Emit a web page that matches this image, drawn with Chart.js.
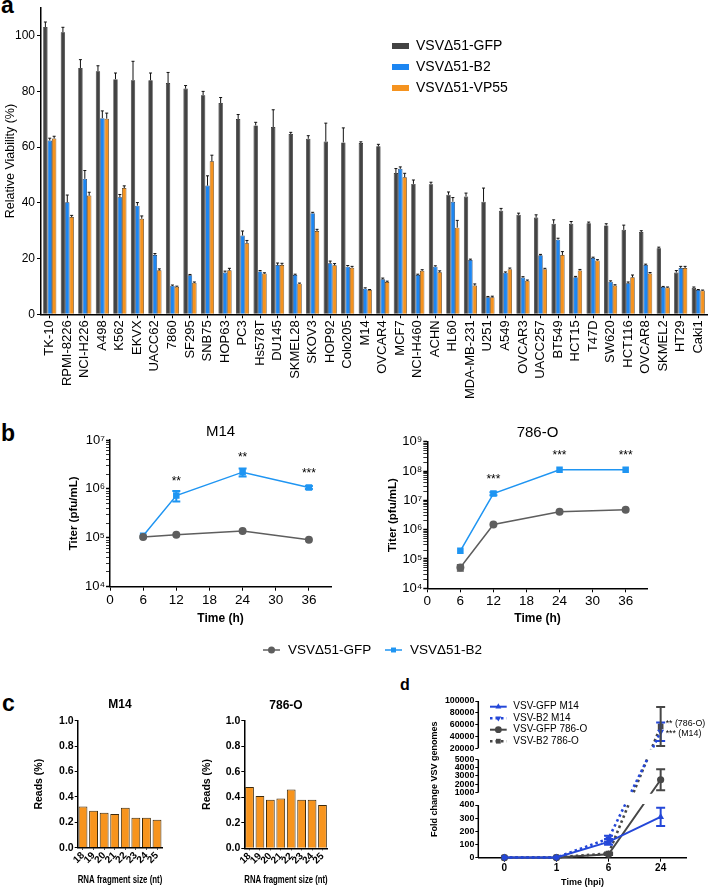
<!DOCTYPE html>
<html>
<head>
<meta charset="utf-8">
<script src="https://cdn.jsdelivr.net/npm/chart.js@4.4.1/dist/chart.umd.min.js"></script>
<style>
  html, body { margin: 0; padding: 0; background: #fff; }
  body { width: 708px; height: 889px; position: relative; overflow: hidden; font-family: 'Liberation Sans', Arial, sans-serif; }
  canvas { position: absolute; }
  .tag { position: absolute; font-weight: bold; line-height: 1; color: #000; }
</style>
</head>
<body>
<div class="tag" style="left:1px;top:-6px;font-size:23px">a</div>
<div class="tag" style="left:1px;top:422px;font-size:23px">b</div>
<div class="tag" style="left:2px;top:692px;font-size:23px">c</div>
<div class="tag" style="left:400px;top:677px;font-size:16px">d</div>

<canvas id="viability" width="708" height="400" style="left:0;top:0"></canvas>
<canvas id="titerM14" width="500" height="240" style="left:40px;top:420px"></canvas>
<canvas id="titer786" width="310" height="215" style="left:357px;top:420px"></canvas>
<canvas id="readsM14" width="160" height="199" style="left:20px;top:690px"></canvas>
<canvas id="reads786" width="160" height="199" style="left:187px;top:690px"></canvas>
<canvas id="genomes" width="308" height="199" style="left:400px;top:690px"></canvas>

<script>
// ---- panel a: relative viability per cell line ----
const cellLines = ['TK-10', 'RPMI-8226', 'NCI-H226', 'A498', 'K562', 'EKVX', 'UACC62', '7860', 'SF295', 'SNB75',
  'HOP63', 'PC3', 'Hs578T', 'DU145', 'SKMEL28', 'SKOV3', 'HOP92', 'Colo205', 'M14', 'OVCAR4',
  'MCF7', 'NCI-H460', 'ACHN', 'HL60', 'MDA-MB-231', 'U251', 'A549', 'OVCAR3', 'UACC257', 'BT549',
  'HCT15', 'T47D', 'SW620', 'HCT116', 'OVCAR8', 'SKMEL2', 'HT29', 'Caki1'];
const gfpViability = [103.1, 101.2, 88.4, 87.2, 84.4, 84.0, 84.0, 83.0, 81.0, 78.6,
  75.8, 70.1, 67.8, 67.2, 64.7, 63.0, 62.0, 61.7, 61.5, 60.3,
  50.7, 46.8, 46.7, 42.9, 42.3, 40.4, 37.2, 35.7, 34.7, 32.5,
  32.5, 32.7, 31.9, 30.3, 29.5, 23.7, 15.0, 9.5];
const gfpErr = [1.8, 1.8, 3.0, 2.0, 2.2, 6.8, 2.6, 3.8, 1.1, 1.4,
  2.0, 1.6, 1.1, 6.2, 0.6, 1.1, 6.6, 5.2, 0.4, 0.7,
  1.6, 1.4, 0.7, 1.0, 1.2, 4.9, 0.8, 0.6, 1.0, 1.4,
  0.8, 0.4, 0.6, 1.7, 0.5, 0.4, 0.7, 0.3];
const b2Viability = [62.4, 40.2, 48.6, 70.4, 42.0, 39.0, 21.3, 10.2, 14.0, 46.2,
  15.0, 28.3, 15.4, 17.7, 14.1, 36.3, 18.3, 17.1, 9.2, 12.6,
  52.2, 14.1, 17.1, 40.4, 19.5, 6.1, 14.9, 13.2, 21.2, 26.8,
  13.3, 20.2, 11.7, 11.1, 17.7, 9.8, 16.6, 8.7];
const b2Err = [0.8, 2.6, 3.0, 2.6, 1.0, 1.1, 0.5, 0.3, 0.3, 3.5,
  0.5, 1.6, 0.3, 0.7, 0.3, 0.3, 0.8, 0.4, 0.3, 0.4,
  0.7, 0.3, 0.3, 1.5, 0.3, 0.3, 0.3, 0.3, 0.3, 0.5,
  0.3, 0.3, 0.3, 0.5, 0.3, 0.2, 0.6, 0.2];
const vp55Viability = [63.1, 34.9, 42.6, 70.2, 45.3, 34.3, 15.8, 9.9, 11.3, 54.9,
  15.8, 25.5, 14.6, 17.7, 11.0, 29.9, 17.6, 16.7, 8.7, 11.6,
  49.2, 15.6, 15.1, 31.1, 10.3, 6.1, 16.2, 12.0, 16.2, 21.3,
  15.7, 19.3, 10.3, 13.3, 14.6, 9.6, 16.6, 8.5];
const vp55Err = [0.8, 0.6, 1.2, 2.0, 0.8, 1.0, 0.5, 0.2, 0.3, 2.2,
  0.7, 1.0, 0.3, 0.6, 0.2, 0.6, 0.6, 0.5, 0.2, 0.3,
  1.4, 0.4, 0.5, 2.6, 0.6, 0.4, 0.4, 0.3, 0.3, 1.2,
  0.4, 0.3, 0.3, 0.8, 0.4, 0.2, 0.6, 0.2];
const viabilityTicks = [0, 20, 40, 60, 80, 100];

// ---- panel b: virus titers ----
const titerHours = [6, 12, 24, 36];
const hourTicks = [0, 6, 12, 18, 24, 30, 36];
const m14Gfp = [1.04e5, 1.16e5, 1.37e5, 9.1e4];
const m14B2 = [1.1e5, 7.3e5, 2.2e6, 1.07e6];
const m14B2Err = [0, 1.8e5, 4e5, 0.8e5];
const m14Stars = ['', '**', '**', '***'];
const o786Gfp = [5.1e4, 1.5e6, 4.1e6, 4.8e6];
const o786GfpErr = [1.2e4, 0, 0, 0];
const o786B2 = [1.9e5, 1.7e7, 1.1e8, 1.1e8];
const o786B2Err = [0, 2e6, 0, 0];
const o786Stars = ['', '***', '***', '***'];
const m14Decades = [1e4, 1e5, 1e6, 1e7];
const o786Decades = [1e4, 1e5, 1e6, 1e7, 1e8, 1e9];

// ---- panel c: small RNA reads ----
const fragSizes = ['18', '19', '20', '21', '22', '23', '24', '25'];
const m14Reads = [0.325, 0.29, 0.275, 0.265, 0.315, 0.235, 0.235, 0.22];
const o786Reads = [0.48, 0.41, 0.38, 0.39, 0.46, 0.38, 0.38, 0.34];
const readsTicks = [0, 0.2, 0.4, 0.6, 0.8, 1.0];

// ---- panel d: fold change of VSV genomes ----
const hpi = ['0', '1', '6', '24'];
const gfpM14Fold = [1, 1, 120, 310];
const gfpM14Err = [0, 0, 22, 70];
const b2M14Fold = [1, 2, 145, 48000];
const b2M14Err = [0, 0, 22, 15500];
const gfp786Fold = [1, 1, 26, 2550];
const gfp786Err = [0, 0, 6, 1250];
const b2786Fold = [1, 3, 32, 57000];
const b2786Err = [0, 0, 8, 33000];
const foldTicks = [0, 100, 200, 300, 400, 1000, 2000, 3000, 4000, 5000, 20000, 40000, 60000, 80000, 100000];
const foldBreaks = [[0, 400], [1000, 5000], [20000, 100000]];

const FONT = "'Liberation Sans', Arial, Helvetica, sans-serif";
Chart.defaults.font.family = FONT;
Chart.defaults.color = '#000';
Chart.defaults.animation = false;
Chart.defaults.responsive = false;
Chart.defaults.devicePixelRatio = 1;
Chart.defaults.events = [];
Chart.defaults.plugins.legend.display = false;
Chart.defaults.plugins.tooltip.enabled = false;

// keep the axis boxes at fixed sizes so the plot areas land where they should
function fixX(h) { return s => { s.height = h; s.paddingLeft = 0; s.paddingRight = 0; }; }
function fixY(w) { return s => { s.width = w; s.paddingTop = 0; s.paddingBottom = 0; }; }
const axisBorder = { color: '#000', width: 1.5 };
function tickGrid(len) { return { drawOnChartArea: false, offset: false, tickLength: len, color: '#000', lineWidth: 1 }; }

// where each broken band of panel d sits, as a share of the plot height
const foldBands = [[0, 0.336], [0.415, 0.628], [0.698, 1]];
function foldDecimal(v) {
  for (let i = 0; i < foldBreaks.length; i++) {
    const [lo, hi] = foldBreaks[i];
    const [f0, f1] = foldBands[i];
    if (v <= hi || i === foldBreaks.length - 1) {
      if (v >= lo || i === 0) return f0 + (v - lo) / (hi - lo) * (f1 - f0);
      const prevHi = foldBreaks[i - 1][1], prevF = foldBands[i - 1][1];
      return prevF + (v - prevHi) / (lo - prevHi) * (f0 - prevF);
    }
  }
  return 1;
}
class BrokenLinearScale extends Chart.LinearScale {
  buildTicks() { return foldTicks.map(v => ({ value: v })); }
  getPixelForValue(v) { return this.getPixelForDecimal(foldDecimal(v)); }
}
BrokenLinearScale.id = 'brokenLinear';
BrokenLinearScale.defaults = Chart.LinearScale.defaults;
Chart.register(BrokenLinearScale);

// ---- plugins ----
const errorBars = {
  id: 'errorBars',
  afterDatasetsDraw(chart) {
    const ctx = chart.ctx;
    chart.data.datasets.forEach((ds, i) => {
      if (!ds.errors) return;
      const meta = chart.getDatasetMeta(i);
      const scale = chart.scales[meta.yAxisID];
      ctx.save();
      ctx.strokeStyle = ds.errorColor || ds.borderColor;
      ctx.lineWidth = ds.errorWidth || 1;
      meta.data.forEach((el, j) => {
        const err = ds.errors[j];
        if (!err) return;
        const raw = ds.data[j];
        const v = typeof raw === 'object' ? raw.y : raw;
        const top = scale.getPixelForValue(v + err);
        const bottom = ds.errorUpOnly ? el.y : scale.getPixelForValue(Math.max(v - err, 1e-9));
        const half = (ds.capWidth || 4) / 2;
        ctx.beginPath();
        ctx.moveTo(el.x, bottom); ctx.lineTo(el.x, top);
        ctx.moveTo(el.x - half, top); ctx.lineTo(el.x + half, top);
        if (!ds.errorUpOnly) { ctx.moveTo(el.x - half, bottom); ctx.lineTo(el.x + half, bottom); }
        ctx.stroke();
      });
      ctx.restore();
    });
  }
};

const starMarks = {
  id: 'starMarks',
  afterDatasetsDraw(chart, args, o) {
    const ctx = chart.ctx;
    chart.data.datasets.forEach((ds, i) => {
      if (!ds.stars) return;
      ctx.save();
      ctx.font = o.size + 'px ' + FONT;
      ctx.fillStyle = '#000'; ctx.textAlign = 'center'; ctx.textBaseline = 'middle';
      chart.getDatasetMeta(i).data.forEach((el, j) => {
        if (ds.stars[j]) ctx.fillText(ds.stars[j], el.x, el.y - o.lift);
      });
      ctx.restore();
    });
  }
};

const sideNotes = {
  id: 'sideNotes',
  afterDatasetsDraw(chart, args, o) {
    const ctx = chart.ctx;
    chart.data.datasets.forEach((ds, i) => {
      if (!ds.note) return;
      const pts = chart.getDatasetMeta(i).data;
      const last = pts[pts.length - 1];
      ctx.save();
      ctx.font = o.size + 'px ' + FONT;
      ctx.fillStyle = '#000'; ctx.textBaseline = 'middle';
      ctx.fillText(ds.note, last.x + o.dx, last.y + (ds.noteShift || 0));
      ctx.restore();
    });
  }
};

const caption = {
  id: 'caption',
  afterDraw(chart, args, o) {
    if (!o.text) return;
    const { ctx, chartArea } = chart;
    ctx.save();
    ctx.font = (o.weight || 'normal') + ' ' + o.size + 'px ' + FONT;
    ctx.fillStyle = '#000'; ctx.textAlign = 'center'; ctx.textBaseline = 'middle';
    ctx.fillText(o.text, (chartArea.left + chartArea.right) / 2, chartArea.top + o.dy);
    ctx.restore();
  }
};

const boxLegend = {
  id: 'boxLegend',
  afterDraw(chart, args, o) {
    const ctx = chart.ctx;
    ctx.save();
    ctx.font = o.size + 'px ' + FONT;
    ctx.textBaseline = 'middle';
    chart.data.datasets.forEach((ds, i) => {
      const y = o.y + i * o.dy;
      ctx.fillStyle = ds.backgroundColor;
      ctx.fillRect(o.x, y - o.boxH / 2, o.boxW, o.boxH);
      ctx.fillStyle = '#000';
      ctx.fillText(ds.label, o.x + o.boxW + o.gap, y);
    });
    ctx.restore();
  }
};

const lineLegend = {
  id: 'lineLegend',
  afterDraw(chart, args, o) {
    const ctx = chart.ctx;
    chart.data.datasets.forEach((ds, i) => {
      const x = o.x + i * (o.dx || 0), y = o.y + i * (o.dy || 0);
      ctx.save();
      ctx.strokeStyle = ds.borderColor;
      ctx.lineWidth = o.lineWidth || ds.borderWidth;
      ctx.setLineDash(ds.borderDash || []);
      ctx.beginPath(); ctx.moveTo(x, y); ctx.lineTo(x + o.lineLen, y); ctx.stroke();
      ctx.setLineDash([]);
      ctx.fillStyle = ds.pointBackgroundColor || ds.borderColor;
      Chart.helpers.drawPoint(ctx, { pointStyle: ds.pointStyle, rotation: ds.pointRotation || 0, radius: o.radius, borderWidth: 0 }, x + o.lineLen / 2, y);
      ctx.fillStyle = '#000';
      ctx.font = o.size + 'px ' + FONT;
      ctx.textBaseline = 'middle';
      ctx.fillText(ds.label, x + o.lineLen + o.gap, y);
      ctx.restore();
    });
  }
};

// the y axis of panel d is drawn in pieces, and lines are hidden in the gaps
const axisBreaks = {
  id: 'axisBreaks',
  beforeDatasetsDraw(chart) {
    const { ctx, chartArea } = chart, y = chart.scales.y;
    ctx.save();
    ctx.beginPath();
    foldBreaks.forEach(([lo, hi]) => {
      const top = y.getPixelForValue(hi) - 1, bot = y.getPixelForValue(lo) + (lo === 0 ? 8 : 1);
      ctx.rect(chartArea.left - 10, top, chartArea.width + 20, bot - top);
    });
    ctx.clip();
  },
  afterDatasetsDraw(chart) { chart.ctx.restore(); },
  afterDraw(chart) {
    const { ctx, chartArea } = chart, y = chart.scales.y;
    ctx.save();
    ctx.strokeStyle = '#000'; ctx.lineWidth = 1.5;
    foldBreaks.forEach(([lo, hi]) => {
      ctx.beginPath();
      ctx.moveTo(chartArea.left, y.getPixelForValue(lo));
      ctx.lineTo(chartArea.left, y.getPixelForValue(hi));
      ctx.stroke();
    });
    ctx.restore();
  }
};

// ---- panel a ----
new Chart(document.getElementById('viability'), {
  type: 'bar',
  data: {
    labels: cellLines,
    datasets: [
      { label: 'VSVΔ51-GFP', data: gfpViability, errors: gfpErr, errorUpOnly: true, errorColor: '#111', capWidth: 3,
        backgroundColor: '#434343', borderColor: '#1e1e1e', borderWidth: 0.7 },
      { label: 'VSVΔ51-B2', data: b2Viability, errors: b2Err, errorUpOnly: true, errorColor: '#111', capWidth: 3,
        backgroundColor: '#1c86f2', borderColor: '#10305a', borderWidth: 0.7 },
      { label: 'VSVΔ51-VP55', data: vp55Viability, errors: vp55Err, errorUpOnly: true, errorColor: '#111', capWidth: 3,
        backgroundColor: '#f5931f', borderColor: '#4a2c08', borderWidth: 0.7 }
    ]
  },
  options: {
    layout: { padding: { left: 0, right: 1, top: 7.8, bottom: 0 } },
    datasets: { bar: { categoryPercentage: 0.75, barPercentage: 1 } },
    scales: {
      x: {
        grid: tickGrid(4), border: axisBorder,
        ticks: { minRotation: 90, maxRotation: 90, autoSkip: false, padding: 2, font: { size: 13 } },
        afterFit: fixX(85.7)
      },
      y: {
        min: 0, max: 110,
        afterBuildTicks: s => { s.ticks = viabilityTicks.map(v => ({ value: v })); },
        grid: tickGrid(4), border: axisBorder,
        ticks: { padding: 2, font: { size: 12 } },
        title: { display: true, text: 'Relative Viability (%)', font: { size: 12.5 }, padding: { top: 3, bottom: 0 } },
        afterFit: fixY(41)
      }
    },
    plugins: { boxLegend: { x: 392, y: 46, dy: 21, boxW: 17, boxH: 6, gap: 7, size: 14 } }
  },
  plugins: [errorBars, boxLegend]
});

// ---- panel b ----
const supDigits = '⁰¹²³⁴⁵⁶⁷⁸⁹';
function isDecade(v) { const e = Math.log10(v); return Math.abs(e - Math.round(e)) < 1e-9; }
function powerLabel(v) {
  if (!isDecade(v)) return '';
  return '10' + String(Math.round(Math.log10(v))).split('').map(d => supDigits[+d]).join('');
}
function logTicks(decades) {
  const out = [];
  for (let i = 0; i < decades.length - 1; i++) {
    for (let k = 1; k < 10; k++) out.push({ value: k * decades[i] });
  }
  out.push({ value: decades[decades.length - 1] });
  return out;
}

function titerChart(id, gfp, gfpErr, b2, b2Err, stars, decades, box) {
  return new Chart(document.getElementById(id), {
    type: 'line',
    data: {
      datasets: [
        { label: 'VSVΔ51-GFP', data: titerHours.map((h, i) => ({ x: h, y: gfp[i] })), errors: gfpErr, capWidth: 7, errorWidth: 1.5,
          borderColor: '#5e5e5e', backgroundColor: '#5e5e5e', borderWidth: 1.5, pointStyle: 'circle', pointRadius: 4, pointBorderWidth: 0 },
        { label: 'VSVΔ51-B2', data: titerHours.map((h, i) => ({ x: h, y: b2[i] })), errors: b2Err, stars: stars, capWidth: 8, errorWidth: 2,
          borderColor: '#1f95f2', backgroundColor: '#1f95f2', borderWidth: 1.5, pointStyle: 'rect', pointRadius: 4.6, pointBorderWidth: 0 }
      ]
    },
    options: {
      layout: { padding: box.padding },
      scales: {
        x: {
          type: 'linear', min: 0, max: 40,
          afterBuildTicks: s => { s.ticks = hourTicks.map(v => ({ value: v })); },
          grid: tickGrid(4), border: axisBorder,
          ticks: { padding: 1, font: { size: 13.5 } },
          title: { display: true, text: 'Time (h)', font: { size: 12, weight: 'bold' }, padding: { top: 0, bottom: 8.8 } },
          afterFit: fixX(box.xHeight)
        },
        y: {
          type: 'logarithmic', min: decades[0], max: decades[decades.length - 1],
          afterBuildTicks: s => { s.ticks = logTicks(decades); },
          grid: Object.assign(tickGrid(4), { tickWidth: c => (c.tick && isDecade(c.tick.value) ? 1.5 : 0.8) }),
          border: axisBorder,
          ticks: { autoSkip: false, padding: 1, font: { size: 13 }, callback: v => powerLabel(v) },
          title: { display: true, text: 'Titer (pfu/mL)', font: { size: 11.5, weight: 'bold' }, padding: { top: box.yTitlePad, bottom: 0 } },
          afterFit: fixY(box.yWidth)
        }
      },
      plugins: {
        caption: { text: box.title, size: 15, dy: box.titleDy },
        starMarks: { size: 12, lift: 14 },
        lineLegend: box.legend || {}
      }
    },
    plugins: box.legend ? [errorBars, starMarks, caption, lineLegend] : [errorBars, starMarks, caption]
  });
}

titerChart('titerM14', m14Gfp, null, m14B2, m14B2Err, m14Stars, m14Decades, {
  padding: { left: 0, right: 209, top: 20, bottom: 25 }, xHeight: 48.3, yWidth: 70, yTitlePad: 27,
  title: 'M14', titleDy: -8.5,
  legend: { x: 223, y: 230, dx: 122, lineLen: 17, gap: 8, radius: 3.5, size: 13.5, lineWidth: 1.5 }
});
titerChart('titer786', o786Gfp, o786GfpErr, o786B2, o786B2Err, o786Stars, o786Decades, {
  padding: { left: 0, right: 19.3, top: 21.7, bottom: 0 }, xHeight: 46.7, yWidth: 70.3, yTitlePad: 29.4,
  title: '786-O', titleDy: -9
});

// ---- panel c ----
function readsChart(id, values, title, box) {
  return new Chart(document.getElementById(id), {
    type: 'bar',
    data: {
      labels: fragSizes,
      datasets: [{ label: title, data: values, backgroundColor: '#f7941d', borderColor: '#3d2a0c', borderWidth: 1 }]
    },
    options: {
      layout: { padding: { left: 0, right: box.right, top: 30.7, bottom: 0 } },
      datasets: { bar: { categoryPercentage: 1, barPercentage: 0.84 } },
      scales: {
        x: {
          grid: tickGrid(2), border: axisBorder,
          ticks: { minRotation: 45, maxRotation: 45, autoSkip: false, padding: 0, font: { size: 10, weight: 'bold' } },
          title: { display: true, text: 'RNA fragment size (nt)', font: { size: 10.5, weight: 'bold' }, padding: { top: 0, bottom: 2.7 } },
          afterFit: fixX(box.xHeight)
        },
        y: {
          min: 0, max: 1,
          afterBuildTicks: s => { s.ticks = readsTicks.map(v => ({ value: v })); },
          grid: tickGrid(3), border: axisBorder,
          ticks: { padding: 1, font: { size: 10.5, weight: 'bold' }, callback: v => v.toFixed(1) },
          title: { display: true, text: 'Reads (%)', font: { size: 10.5, weight: 'bold' }, padding: { top: box.yTitlePad, bottom: 0 } },
          afterFit: fixY(box.yWidth)
        }
      },
      plugins: { caption: { text: title, size: 12, weight: 'bold', dy: box.titleDy } }
    },
    plugins: [caption]
  });
}
readsChart('readsM14', m14Reads, 'M14', { right: 17.7, xHeight: 41.3, yWidth: 57.7, yTitlePad: 12.7, titleDy: -15.7 });
readsChart('reads786', o786Reads, '786-O', { right: 19.3, xHeight: 40.7, yWidth: 57.3, yTitlePad: 14.2, titleDy: -15 });

// ---- panel d ----
const blueD = '#2447d8', greyD = '#474747';
new Chart(document.getElementById('genomes'), {
  type: 'line',
  data: {
    labels: hpi,
    datasets: [
      { label: 'VSV-GFP M14', data: gfpM14Fold, errors: gfpM14Err, capWidth: 9, errorWidth: 2,
        borderColor: blueD, backgroundColor: blueD, borderWidth: 2, pointStyle: 'triangle', pointRadius: 4, pointBorderWidth: 0, clip: 10 },
      { label: 'VSV-B2 M14', data: b2M14Fold, errors: b2M14Err, capWidth: 9, errorWidth: 2, note: '*** (M14)', noteShift: 2,
        borderColor: blueD, backgroundColor: blueD, borderWidth: 2.6, borderDash: [2.5, 3], pointStyle: 'triangle', pointRotation: 180, pointRadius: 4, pointBorderWidth: 0, clip: 10 },
      { label: 'VSV-GFP 786-O', data: gfp786Fold, errors: gfp786Err, capWidth: 9, errorWidth: 2,
        borderColor: greyD, backgroundColor: greyD, borderWidth: 2, pointStyle: 'circle', pointRadius: 3.6, pointBorderWidth: 0, clip: 10 },
      { label: 'VSV-B2 786-O', data: b2786Fold, errors: b2786Err, capWidth: 9, errorWidth: 2, note: '** (786-O)', noteShift: -2.5,
        borderColor: greyD, backgroundColor: greyD, borderWidth: 2.6, borderDash: [2.5, 3], pointStyle: 'rect', pointRadius: 4, pointBorderWidth: 0, clip: 10 }
    ]
  },
  options: {
    layout: { padding: { left: 0, right: 21.3, top: 11, bottom: 0 } },
    scales: {
      x: {
        offset: true,
        grid: tickGrid(4), border: axisBorder,
        ticks: { padding: 1, font: { size: 10, weight: 'bold' } },
        title: { display: true, text: 'Time (hpi)', font: { size: 9, weight: 'bold' }, padding: { top: 0, bottom: 0.6 } },
        afterFit: fixX(31.3)
      },
      y: {
        type: 'brokenLinear', min: 0, max: 100000,
        grid: tickGrid(3), border: { display: false },
        ticks: { autoSkip: false, padding: 1, font: { size: 8.8, weight: 'bold' }, callback: v => String(v) },
        title: { display: true, text: 'Fold change VSV genomes', font: { size: 9, weight: 'bold' }, padding: { top: 29.6, bottom: 0 } },
        afterFit: fixY(78.3)
      }
    },
    plugins: {
      lineLegend: { x: 90, y: 16.7, dy: 11.5, lineLen: 16.7, gap: 6.6, radius: 3.4, size: 10 },
      sideNotes: { size: 8.8, dx: 5 }
    }
  },
  plugins: [axisBreaks, errorBars, sideNotes, lineLegend]
});
</script>
</body>
</html>
